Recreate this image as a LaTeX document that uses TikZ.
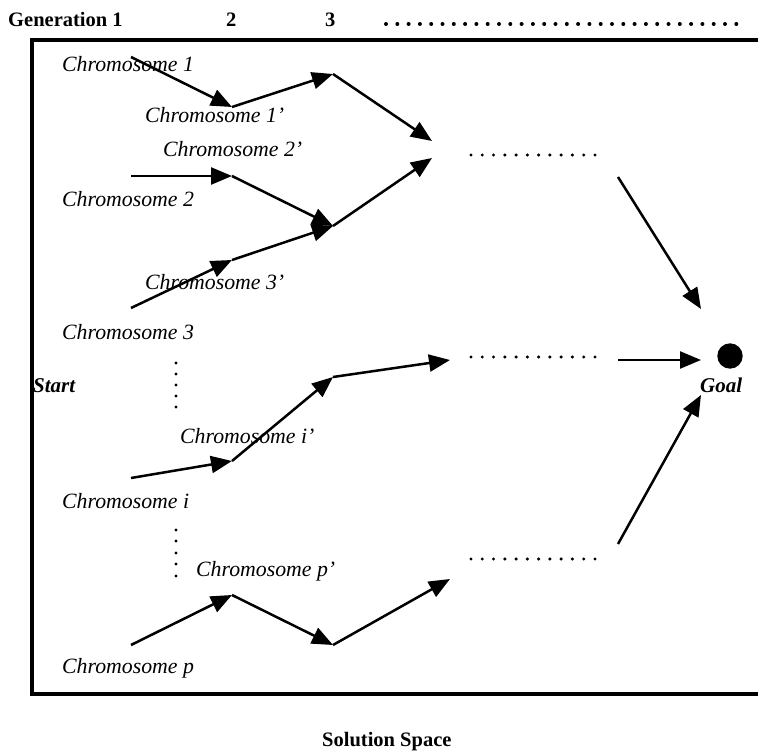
\documentclass[tikz,border=0pt]{standalone}
\usepackage{fontspec}
\setmainfont{Liberation Serif}
\usetikzlibrary{arrows.meta}
\begin{document}
\begin{tikzpicture}[x=1pt,y=-1pt,
  lbl/.style={font=\fontsize{21.8}{24}\selectfont\itshape, inner sep=0, anchor=base west},
  bold/.style={font=\fontsize{20.5}{24}\selectfont\bfseries, inner sep=0, anchor=base west},
  bolditl/.style={font=\fontsize{21}{24}\selectfont\bfseries\itshape, inner sep=0, anchor=base west},
  arr/.style={line width=2.5pt, -{Triangle[length=21pt 0 0,width=17pt 0 0]}},
  frame/.style={line width=3.3pt},
  dotm/.style={fill=black}
]
\useasboundingbox (0,0) rectangle (758,751);
% frame (right side open, runs off the page)
\draw[frame] (780,40) -- (32,40) -- (32,694) -- (780,694);
% header
\node[bold] (gen1) at (8,27) {Generation 1};
\node[bold] (gen2) at (226,27) {2};
\node[bold] (gen3) at (325,27) {3};
\foreach \i in {0,...,31} \fill[dotm] (386+11.3*\i,24) circle (2);
\node[bold] (sol) at (322,746) {Solution Space};
% labels
\node[lbl] (c1)  at (62,72)  {Chromosome 1};
\node[lbl] (c1p) at (145,123) {Chromosome 1’};
\node[lbl] (c2p) at (163,157) {Chromosome 2’};
\node[lbl] (c2)  at (62,207) {Chromosome 2};
\node[lbl] (c3p) at (145,290) {Chromosome 3’};
\node[lbl] (c3)  at (62,340) {Chromosome 3};
\node[bolditl] (start) at (33,392) {Start};
\node[lbl] (cip) at (180,443) {Chromosome i’};
\node[lbl] (ci)  at (62,508) {Chromosome i};
\node[lbl] (cpp) at (196,576) {Chromosome p’};
\node[lbl] (cp)  at (62,673) {Chromosome p};
\node[bolditl] (goal) at (700,392) {Goal};
\fill (730,356) circle (12.7);
\coordinate (goaldot) at (730,356);
% vertical dots
\foreach \y in {363,374,385,396,407} \fill[dotm] (176,\y) circle (1.7);
\foreach \y in {530,541,553,564,576} \fill[dotm] (176,\y) circle (1.7);
% horizontal dotted rows
\foreach \r in {155,357,559}
  \foreach \i in {0,...,11} \fill[dotm] (471+11.27*\i,\r) circle (1.7);
% path points
\coordinate (a0) at (131,57);
\coordinate (a1) at (232,107);
\coordinate (a2) at (333,74);
\coordinate (a3) at (432,141);
\coordinate (b0) at (131,176);
\coordinate (b1) at (232,176);
\coordinate (b2) at (333,226);
\coordinate (b3) at (432,158);
\coordinate (d0) at (131,308);
\coordinate (d1) at (232,260);
\coordinate (e0) at (131,478);
\coordinate (e1) at (232,461);
\coordinate (e2) at (333,377);
\coordinate (e3) at (450,360);
\coordinate (f0) at (131,645);
\coordinate (f1) at (232,595);
\coordinate (f2) at (333,645);
\coordinate (f3) at (450,579);
\coordinate (g1) at (618,177);
\coordinate (g1e) at (701,309);
\coordinate (g2) at (618,360);
\coordinate (g2e) at (701,360);
\coordinate (g3) at (618,544);
\coordinate (g3e) at (701,395);
% arrows
\draw[arr] (a0) -- (a1);
\draw[arr] (a1) -- (a2);
\draw[arr] (a2) -- (a3);
\draw[arr] (b0) -- (b1);
\draw[arr] (b1) -- (b2);
\draw[arr] (b2) -- (b3);
\draw[arr] (d0) -- (d1);
\draw[arr] (d1) -- (b2);
\draw[arr] (e0) -- (e1);
\draw[arr] (e1) -- (e2);
\draw[arr] (e2) -- (e3);
\draw[arr] (f0) -- (f1);
\draw[arr] (f1) -- (f2);
\draw[arr] (f2) -- (f3);
\draw[arr] (g1) -- (g1e);
\draw[arr] (g2) -- (g2e);
\draw[arr] (g3) -- (g3e);
\end{tikzpicture}
\end{document}
